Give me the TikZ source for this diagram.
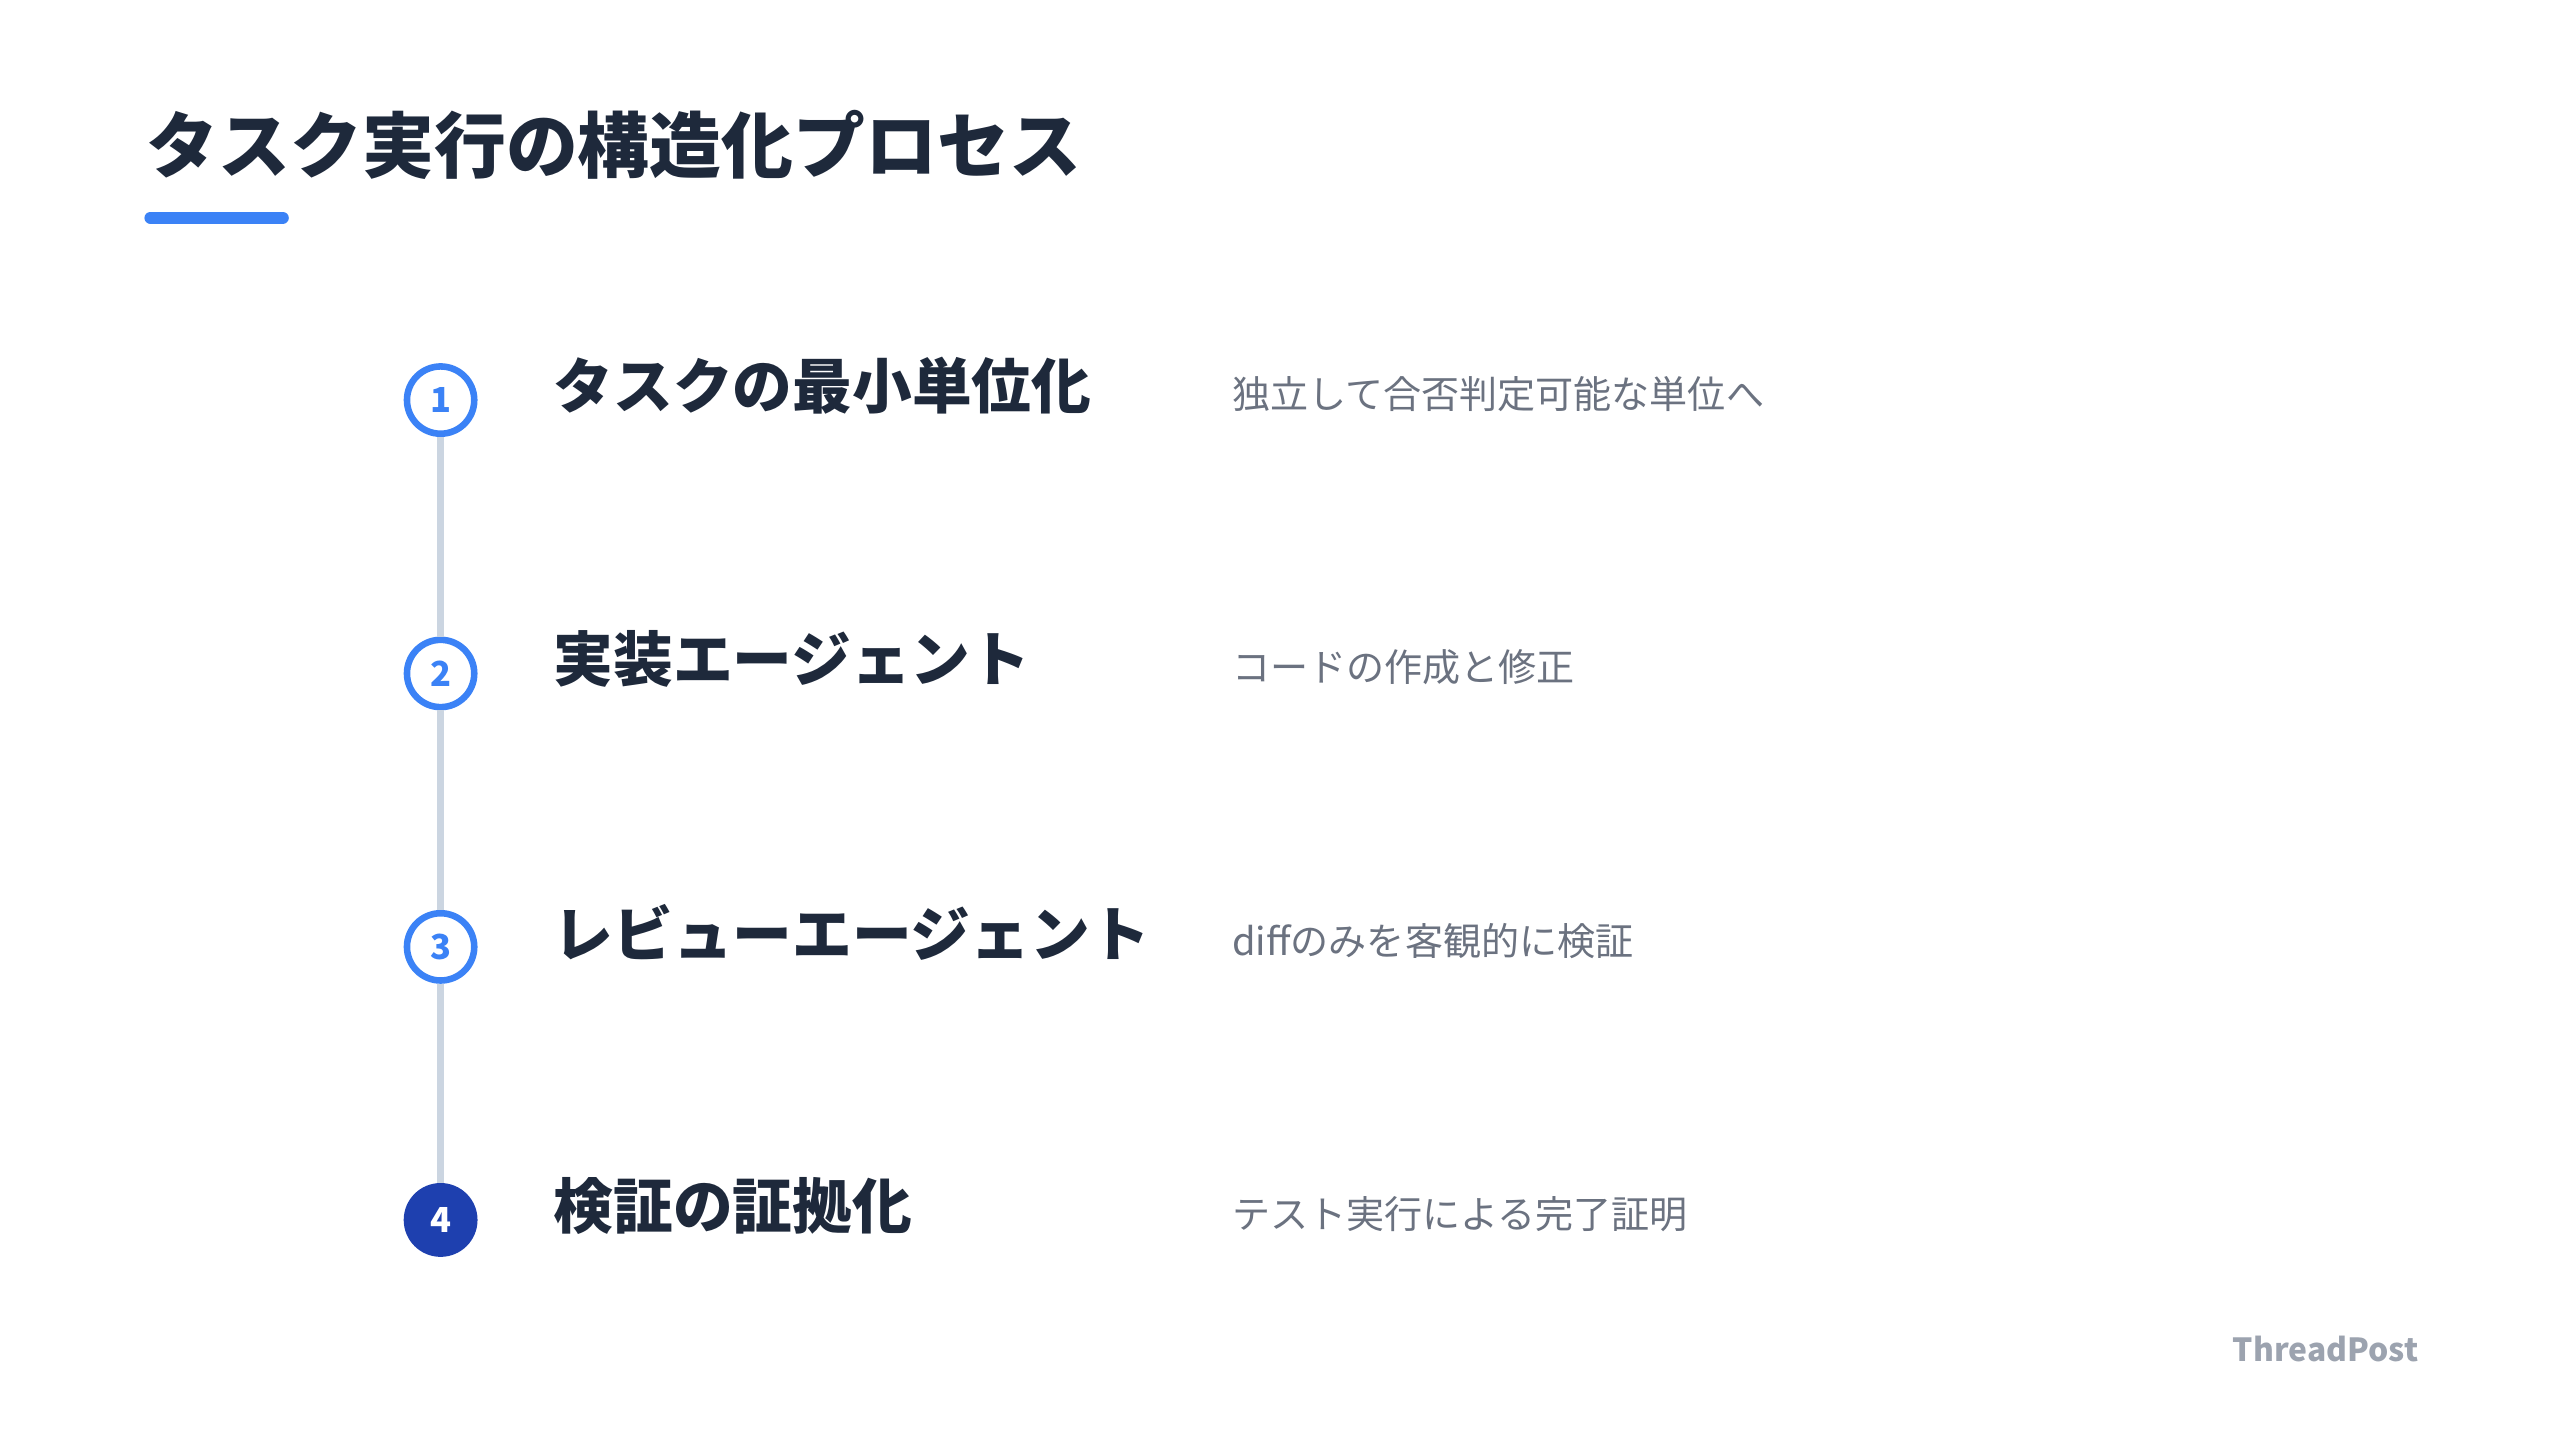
\documentclass[tikz,border=0pt]{standalone}
\usepackage{fontspec}
\setmainfont{Noto Sans CJK JP}
\usepackage{tikz}
\usetikzlibrary{positioning}
\definecolor{inkdark}{HTML}{1E293B}
\definecolor{accent}{HTML}{3B82F6}
\definecolor{accentdark}{HTML}{1E40AF}
\definecolor{spinegray}{HTML}{CBD5E1}
\definecolor{mutedtext}{HTML}{6B7280}
\definecolor{brandgray}{HTML}{9CA3AF}
\tikzset{
  stepdot/.style={circle, draw=accent, line width=2pt, fill=white, minimum size=20.5pt, inner sep=0pt, text=accent, font=\fontsize{10.5}{12}\selectfont\bfseries},
  stepdone/.style={stepdot, draw=accentdark, fill=accentdark, text=white},
  steptitle/.style={anchor=west, inner sep=0pt, text=inkdark, font=\fontsize{18.2}{22}\selectfont\bfseries},
  stepnote/.style={anchor=west, inner sep=0pt, text=mutedtext, font=\fontsize{11.6}{14}\selectfont},
  spine/.style={spinegray, line width=2.2pt}
}
\begin{document}
\begin{tikzpicture}[x=0.5pt,y=-0.5pt]
\useasboundingbox (0,0) rectangle (1560,877.5);
\node [anchor=west, inner sep=0pt, text=inkdark, font=\fontsize{21.9}{26}\selectfont\bfseries] (title) at (89,88.3) {タスク実行の構造化プロセス};
\coordinate (ulstart) at (91.75,132.7);
\coordinate (ulend) at (172.25,132.7);
\draw [accent, line width=3.75pt, line cap=round] (ulstart) -- (ulend);

\node [stepdot] (s1) at (268.5,243.8) {1};
\node [stepdot] (s2) at (268.5,410.4) {2};
\node [stepdot] (s3) at (268.5,577.0) {3};
\node [stepdone] (s4) at (268.5,743.4) {4};
\draw [spine] (s1) -- (s2);
\draw [spine] (s2) -- (s3);
\draw [spine] (s3) -- (s4);

\node [steptitle] (t1) at (337,235.0) {タスクの最小単位化};
\node [steptitle] (t2) at (337,401.6) {実装エージェント};
\node [steptitle] (t3) at (337,568.2) {レビューエージェント};
\node [steptitle] (t4) at (337,734.6) {検証の証拠化};

\node [stepnote] (n1) at (750.5,240.2) {独立して合否判定可能な単位へ};
\node [stepnote] (n2) at (750.5,406.8) {コードの作成と修正};
\node [stepnote] (n3) at (750.5,573.4) {diffのみを客観的に検証};
\node [stepnote] (n4) at (750.5,739.8) {テスト実行による完了証明};

\node [anchor=base east, inner sep=0pt, text=brandgray, font=\fontsize{9.7}{12}\selectfont\bfseries] (brand) at (1474,829.4) {ThreadPost};
\end{tikzpicture}
\end{document}
